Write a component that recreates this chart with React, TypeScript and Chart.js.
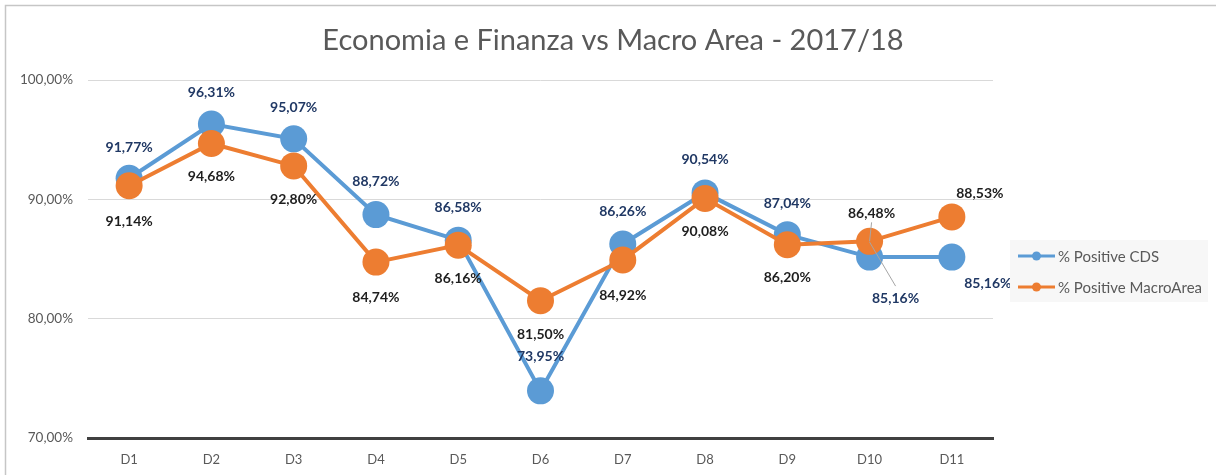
import React, { useEffect, useRef } from "react";
import { Chart, registerables } from "chart.js";

Chart.register(...registerables);

// ---- data ----
const categories = ["D1", "D2", "D3", "D4", "D5", "D6", "D7", "D8", "D9", "D10", "D11"];
const cdsValues = [91.77, 96.31, 95.07, 88.72, 86.58, 73.95, 86.26, 90.54, 87.04, 85.16, 85.16];
const macroValues = [91.14, 94.68, 92.8, 84.74, 86.16, 81.5, 84.92, 90.08, 86.2, 86.48, 88.53];
const yTicks = [70, 80, 90, 100];
const seriesNames = ["% Positive CDS", "% Positive MacroArea"];
const titleText = "Economia e Finanza vs Macro Area - 2017/18";

// ---- label placement (offsets from the point, in px) ----
const cdsLabelOffsets: [number, number][] = [
  [0, -31], [0, -32], [0, -31], [0, -33], [0, -33], [0, -34], [0, -32], [0, -33], [0, -31], [26, 41], [36, 26],
];
const macroLabelOffsets: [number, number][] = [
  [0, 36], [0, 33], [0, 34], [0, 35], [0, 33], [0, 34], [0, 36], [0, 33], [0, 33], [2, -28], [28, -23],
];
// leader lines: dataset index, point index, from offset, to offset
const leaders = [
  { ds: 0, idx: 9, from: [0, -15], to: [26, 29] },
  { ds: 1, idx: 9, from: [2, -19], to: [0, 0] },
];

const BLUE = "#5B9BD5";
const ORANGE = "#ED7D31";
const FONT = "Lato";

const fmt = (v: number) => v.toFixed(2).replace(".", ",") + "%";

const framePlugin = {
  id: "frame",
  beforeDraw(chart: any) {
    const ctx = chart.ctx;
    ctx.save();
    ctx.fillStyle = "#ffffff";
    ctx.fillRect(0, 0, chart.width, chart.height);
    ctx.strokeStyle = "#c6c6c6";
    ctx.lineWidth = 1.5;
    ctx.beginPath();
    ctx.moveTo(5.5, chart.height);
    ctx.lineTo(5.5, 5.5);
    ctx.lineTo(chart.width, 5.5);
    ctx.stroke();
    // title
    ctx.fillStyle = "#595959";
    ctx.font = `29px ${FONT}`;
    ctx.textAlign = "center";
    ctx.textBaseline = "middle";
    ctx.fillText(titleText, 613, 41);
    ctx.restore();
  },
};

const labelsPlugin = {
  id: "pointLabels",
  afterDatasetsDraw(chart: any) {
    const ctx = chart.ctx;
    ctx.save();
    // leader lines
    ctx.strokeStyle = "#a6a6a6";
    ctx.lineWidth = 1;
    leaders.forEach((l) => {
      const el = chart.getDatasetMeta(l.ds).data[l.idx];
      ctx.beginPath();
      ctx.moveTo(el.x + l.from[0], el.y + l.from[1]);
      ctx.lineTo(el.x + l.to[0], el.y + l.to[1]);
      ctx.stroke();
    });
    ctx.font = `bold 14px ${FONT}`;
    ctx.textAlign = "center";
    ctx.textBaseline = "middle";
    const sets = [
      { values: cdsValues, offs: cdsLabelOffsets, color: "#203864" },
      { values: macroValues, offs: macroLabelOffsets, color: "#1e1e1e" },
    ];
    sets.forEach((s, di) => {
      const meta = chart.getDatasetMeta(di);
      ctx.fillStyle = s.color;
      meta.data.forEach((el: any, i: number) => {
        ctx.fillText(fmt(s.values[i]), el.x + s.offs[i][0], el.y + s.offs[i][1]);
      });
    });
    ctx.restore();
  },
};

const legendPlugin = {
  id: "customLegend",
  afterDraw(chart: any) {
    const ctx = chart.ctx;
    ctx.save();
    ctx.fillStyle = "#f7f7f7";
    ctx.fillRect(1010, 240, 198, 62);
    const colors = [BLUE, ORANGE];
    const ys = [256, 287];
    seriesNames.forEach((name, i) => {
      ctx.strokeStyle = colors[i];
      ctx.lineWidth = 3;
      ctx.beginPath();
      ctx.moveTo(1018, ys[i]);
      ctx.lineTo(1055, ys[i]);
      ctx.stroke();
      ctx.fillStyle = colors[i];
      ctx.beginPath();
      ctx.arc(1036.5, ys[i], 4.5, 0, Math.PI * 2);
      ctx.fill();
      ctx.fillStyle = "#595959";
      ctx.font = `15px ${FONT}`;
      ctx.textAlign = "left";
      ctx.textBaseline = "middle";
      ctx.fillText(name, 1058, ys[i] + 1);
    });
    ctx.restore();
  },
};

export default function App() {
  const ref = useRef<HTMLCanvasElement>(null);
  useEffect(() => {
    document.body.style.margin = "0";
    const canvas = ref.current!;
    const chart = new Chart(canvas, {
      type: "line",
      data: {
        labels: categories,
        datasets: [
          {
            label: seriesNames[0],
            data: cdsValues,
            borderColor: BLUE,
            backgroundColor: BLUE,
            pointBackgroundColor: BLUE,
            pointBorderColor: BLUE,
            borderWidth: 4,
            pointRadius: 13.5,
            pointBorderWidth: 0,
            pointHoverRadius: 13.5,
            tension: 0,
            order: 2,
          },
          {
            label: seriesNames[1],
            data: macroValues,
            borderColor: ORANGE,
            backgroundColor: ORANGE,
            pointBackgroundColor: ORANGE,
            pointBorderColor: ORANGE,
            borderWidth: 4,
            pointRadius: 13.5,
            pointBorderWidth: 0,
            pointHoverRadius: 13.5,
            tension: 0,
            order: 1,
          },
        ],
      },
      options: {
        responsive: false,
        animation: false,
        events: [],
        layout: { padding: { left: 5, right: 223, top: 80, bottom: 0 } },
        plugins: {
          legend: { display: false },
          title: { display: false },
          tooltip: { enabled: false },
        },
        scales: {
          x: {
            offset: true,
            grid: { display: false, drawTicks: false },
            border: { display: true, color: "#404040", width: 3 },
            ticks: { color: "#595959", font: { family: FONT, size: 13 }, padding: 14 },
            afterFit: (s: any) => {
              s.height = 37;
            },
          },
          y: {
            min: 70,
            max: 100,
            afterBuildTicks: (s: any) => {
              s.ticks = yTicks.map((v) => ({ value: v }));
            },
            grid: { color: "#d9d9d9", lineWidth: 1, drawTicks: false },
            border: { display: false },
            ticks: {
              callback: (v: any) => fmt(Number(v)),
              color: "#595959",
              font: { family: FONT, size: 13.5 },
              padding: 15,
            },
            afterFit: (s: any) => {
              s.width = 83;
            },
          },
        },
      },
      plugins: [framePlugin, labelsPlugin, legendPlugin],
    } as any);
    return () => chart.destroy();
  }, []);
  return (
    <div style={{ width: 1216, height: 475 }}>
      <canvas ref={ref} width={1216} height={475} style={{ display: "block" }} />
    </div>
  );
}
